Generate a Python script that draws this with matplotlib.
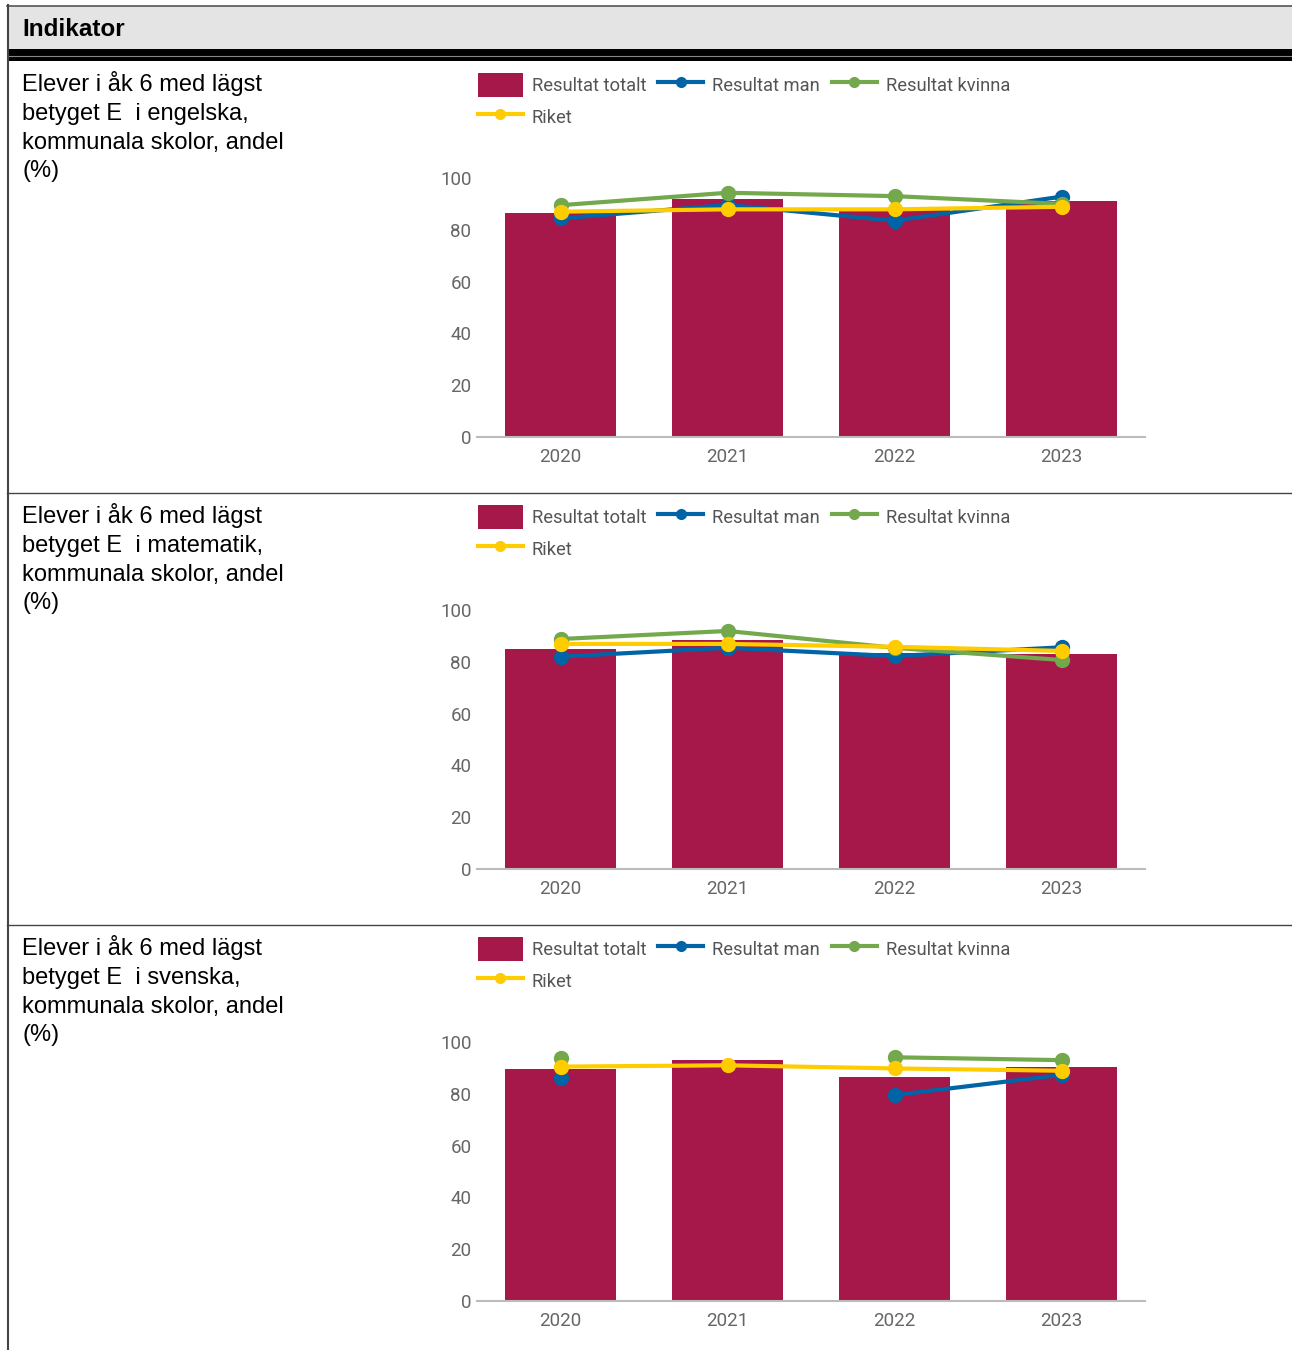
import numpy as np
import matplotlib.pyplot as plt
from matplotlib.lines import Line2D
from matplotlib.patches import Patch, Rectangle

# --- data ---
years = ['2020', '2021', '2022', '2023']

titles = [
    'Elever i åk 6 med lägst\nbetyget E  i engelska,\nkommunala skolor, andel\n(%)',
    'Elever i åk 6 med lägst\nbetyget E  i matematik,\nkommunala skolor, andel\n(%)',
    'Elever i åk 6 med lägst\nbetyget E  i svenska,\nkommunala skolor, andel\n(%)',
]

totalt_eng = [86.5, 91.7, 88.0, 91.3]
man_eng = [84.4, 89.6, 83.5, 92.8]
kvinna_eng = [89.5, 94.3, 93.0, 90.0]
riket_eng = [87.0, 87.9, 87.9, 88.9]

totalt_mat = [85.0, 88.4, 83.3, 83.1]
man_mat = [82.0, 85.4, 82.2, 85.6]
kvinna_mat = [88.8, 91.9, 85.4, 80.7]
riket_mat = [86.9, 86.9, 85.8, 84.2]

totalt_sv = [89.6, 92.9, 86.4, 90.2]
man_sv = [86.0, np.nan, 79.5, 87.3]
kvinna_sv = [93.7, np.nan, 94.1, 93.0]
riket_sv = [90.5, 91.0, 89.8, 88.9]

panels = [
    (totalt_eng, man_eng, kvinna_eng, riket_eng),
    (totalt_mat, man_mat, kvinna_mat, riket_mat),
    (totalt_sv, man_sv, kvinna_sv, riket_sv),
]

labels = ['Resultat totalt', 'Resultat man', 'Resultat kvinna', 'Riket']
c_bar = '#A6174A'
c_man = '#0064A6'
c_kvinna = '#74A84C'
c_riket = '#FFCC00'

W, H = 1292, 1350
fig = plt.figure(figsize=(W / 100, H / 100), dpi=100)


def fx(x):
    return x / W


def fy(y):
    return 1 - y / H


def hline(y, x0, x1, color, lw):
    fig.add_artist(Line2D([fx(x0), fx(x1)], [fy(y), fy(y)], color=color, lw=lw,
                          transform=fig.transFigure))


# --- table frame ---
fig.add_artist(Rectangle((fx(8), fy(49)), fx(W) - fx(8), fy(6) - fy(49),
                         transform=fig.transFigure, facecolor='#e4e4e4', edgecolor='none'))
hline(5.5, 7, W, '#555555', 1.2)
fig.add_artist(Rectangle((fx(8), fy(61)), fx(W) - fx(8), fy(49) - fy(61),
                         transform=fig.transFigure, facecolor='black', edgecolor='none'))
hline(55.5, 8, W, '#888888', 0.8)
fig.add_artist(Line2D([fx(7.5), fx(7.5)], [fy(5), fy(H)], color='#444444', lw=1.5,
                      transform=fig.transFigure))
hline(492.5, 7, W, '#444444', 1.0)
hline(924.5, 7, W, '#444444', 1.0)

fig.text(fx(22), fy(30), 'Indikator', family='Liberation Sans', fontweight='bold',
         fontsize=17.5, va='center', ha='left', color='black')

x = np.arange(len(years))
leg_handles = [
    Patch(facecolor=c_bar, edgecolor='none'),
    Line2D([], [], color=c_riket, lw=3, marker='o', markersize=7),
    Line2D([], [], color=c_man, lw=3, marker='o', markersize=7),
    Line2D([], [], color=c_kvinna, lw=3, marker='o', markersize=7),
]
leg_labels = [labels[0], labels[3], labels[1], labels[2]]

for i, (totalt, man, kvinna, riket) in enumerate(panels):
    off = 432 * i
    fig.text(fx(22), fy(71 + off), titles[i], family='Liberation Sans', fontsize=17,
             va='top', ha='left', color='black', linespacing=1.4)

    ax = fig.add_axes([fx(477), fy(437 + off), fx(1145) - fx(477), fy(178 + off) - fy(437 + off)])
    ax.bar(x, totalt, width=0.665, color=c_bar, zorder=2)
    for vals, col in [(man, c_man), (kvinna, c_kvinna), (riket, c_riket)]:
        ax.plot(x, vals, color=col, lw=3, marker='o', markersize=10, zorder=3, clip_on=False)
    ax.set_xlim(-0.5, 3.5)
    ax.set_ylim(0, 100)
    ax.set_yticks(range(0, 101, 20))
    ax.set_xticks(x)
    ax.set_xticklabels(years)
    for s in ['top', 'right', 'left']:
        ax.spines[s].set_visible(False)
    ax.spines['bottom'].set_color('#bbbbbb')
    ax.spines['bottom'].set_linewidth(1.5)
    ax.tick_params(axis='both', length=0, labelsize=13.5, labelcolor='#666666')
    ax.tick_params(axis='y', pad=4)
    ax.tick_params(axis='x', pad=8)
    for t in ax.get_xticklabels() + ax.get_yticklabels():
        t.set_family('Roboto')

    fig.legend(leg_handles, leg_labels, loc='upper left', ncol=3,
               bbox_to_anchor=(fx(463), fy(58 + off)), frameon=False,
               prop={'family': 'Roboto', 'size': 13.2}, labelcolor='#555555',
               handlelength=2.46, handleheight=1.65, handletextpad=0.49,
               columnspacing=0.65, labelspacing=0.45, borderpad=0.3)

fig.savefig('out.png', dpi=100)
